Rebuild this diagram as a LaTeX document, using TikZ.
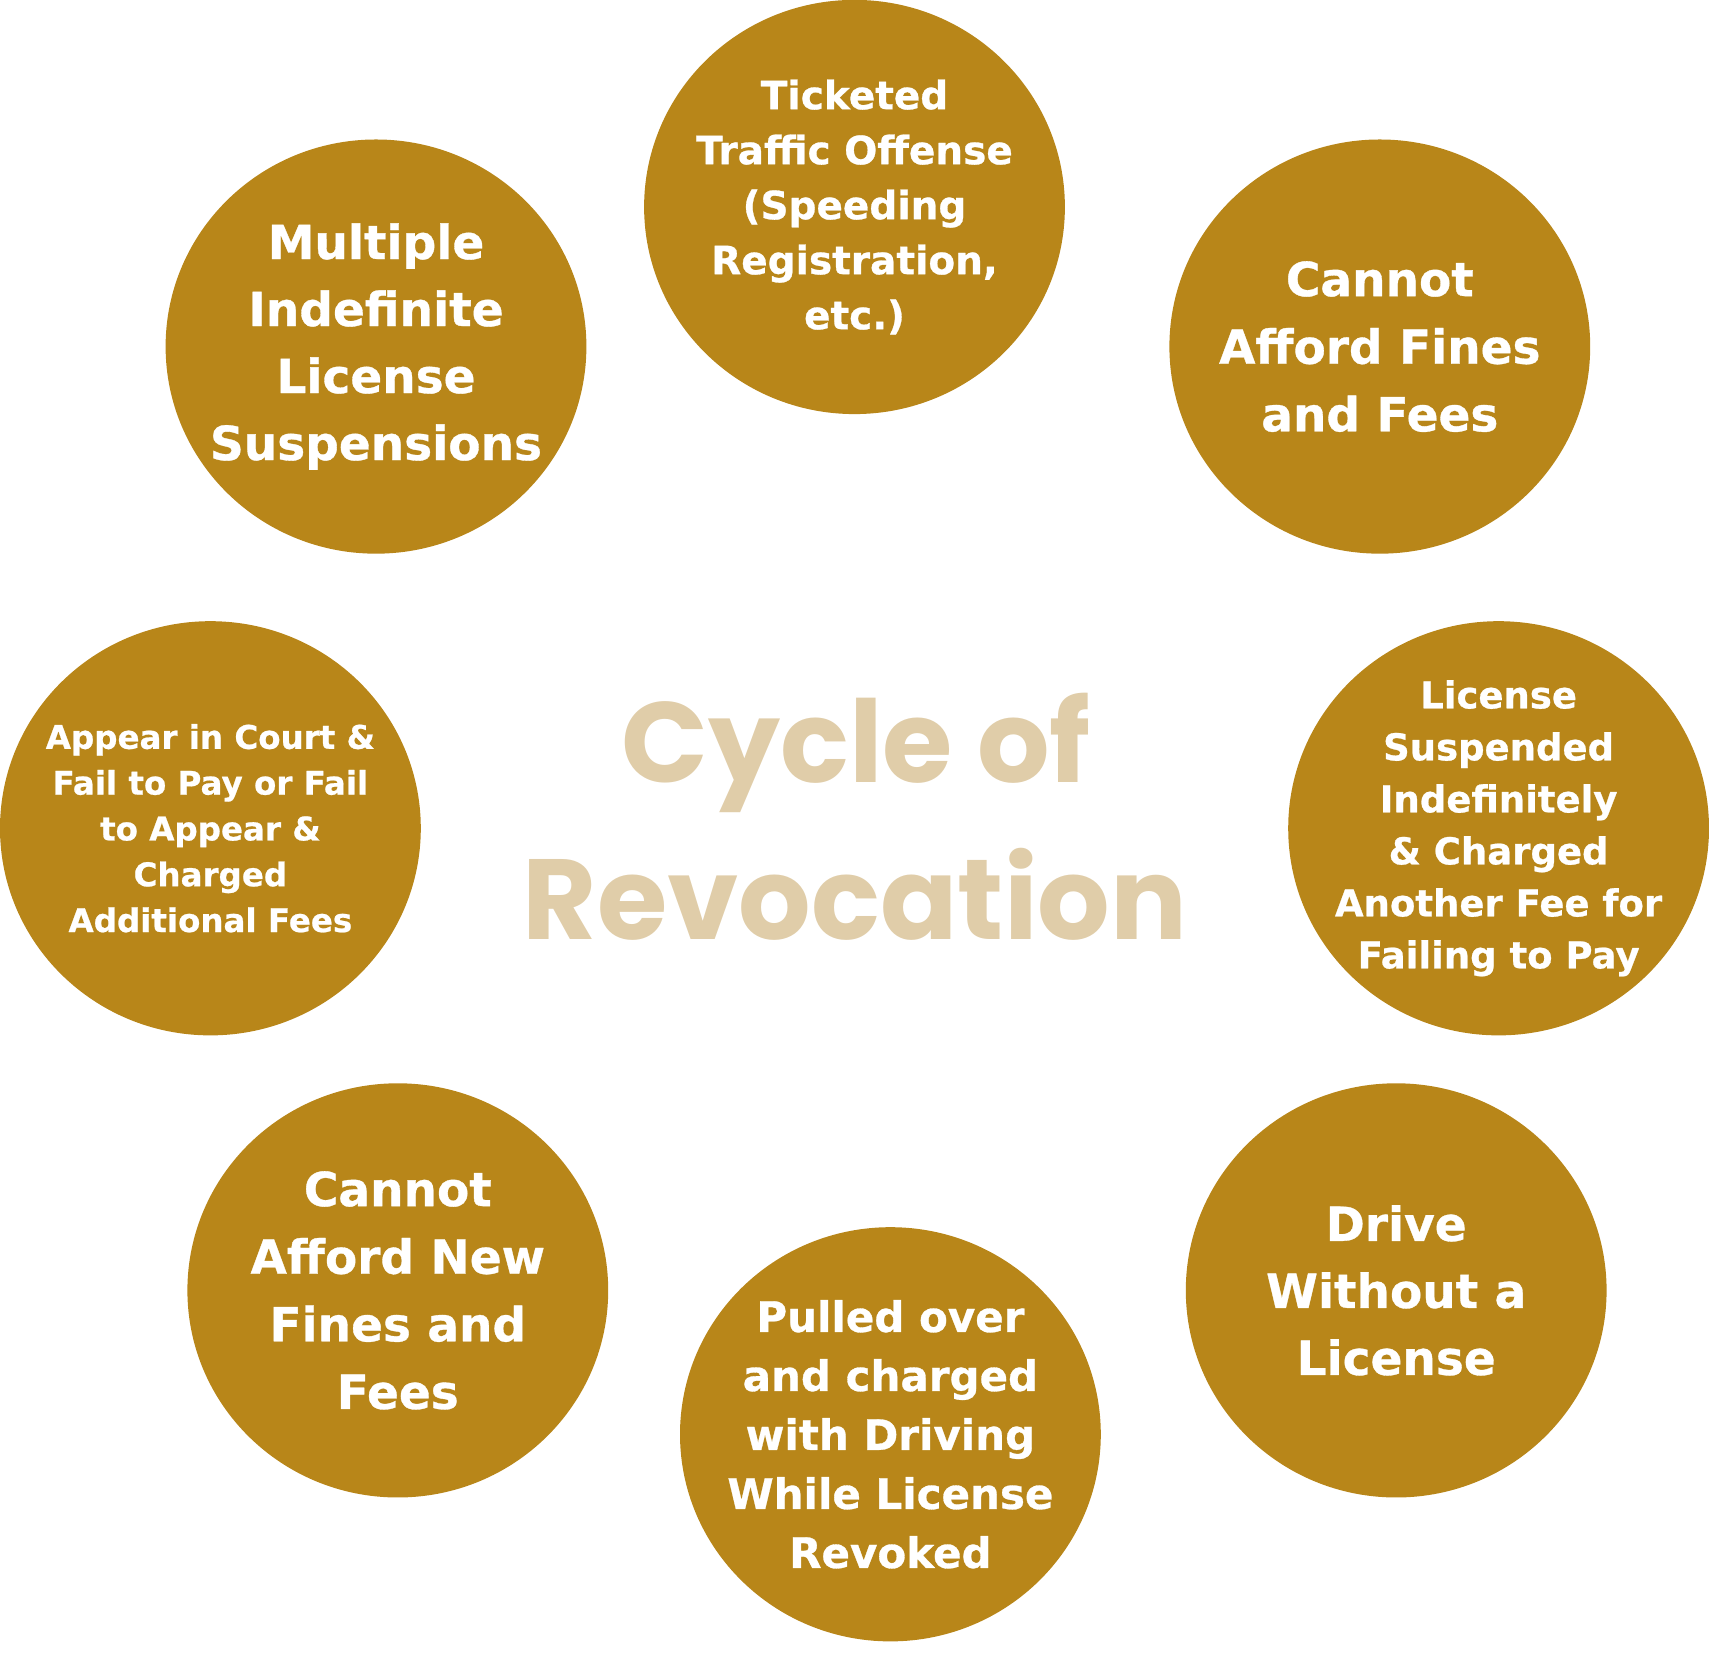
\documentclass[tikz,border=0pt]{standalone}
\usepackage{fontspec}
\usetikzlibrary{shapes.geometric}
\newfontfamily\circfont{DejaVu Sans}[BoldFeatures={FakeBold=0.7}]
\newfontfamily\titlefont{Poppins}
\definecolor{gold}{RGB}{184,134,25}
\definecolor{tan}{RGB}{224,205,169}
\newcommand{\fs}[2]{\circfont\bfseries\fontsize{#1}{#2}\selectfont}
\begin{document}
\begin{tikzpicture}[x=1pt,y=1pt,
  disc/.style={ellipse,fill=gold,draw=none,inner sep=0pt,minimum width=420.8pt,minimum height=414.2pt},
  lbl/.style={text=white,align=center,inner sep=0pt},
  ttl/.style={text=tan,anchor=base,inner sep=0pt,font=\titlefont\bfseries\fontsize{114}{134}\selectfont}]
\useasboundingbox (0,0) rectangle (1709,1665);
\node[disc] (c1) at (854.5,1458) {};
\node[disc] (c2) at (1379.8,1318.4) {};
\node[disc] (c3) at (1498.6,836.7) {};
\node[disc] (c4) at (1396.2,374.6) {};
\node[disc] (c5) at (890.4,230.7) {};
\node[disc] (c6) at (397.8,374.6) {};
\node[disc] (c7) at (210.4,836.7) {};
\node[disc] (c8) at (376,1318.4) {};
\node[lbl,font=\fs{39}{55}] (t1) at (c1.center) {Ticketed\\Traffic Offense\\(Speeding\\Registration,\\etc.)};
\node[lbl,font=\fs{47}{67.6}] (t2) at (c2.center) {Cannot\\Afford Fines\\and Fees};
\node[lbl,font=\fs{37}{52}] (t3) at (c3.center) {License\\Suspended\\Indefinitely\\\& Charged\\Another Fee for\\Failing to Pay};
\node[lbl,font=\fs{47}{67}] (t4) at (c4.center) {Drive\\Without a\\License};
\node[lbl,font=\fs{42}{59}] (t5) at (c5.center) {Pulled over\\and charged\\with Driving\\While License\\Revoked};
\node[lbl,font=\fs{47}{67.6}] (t6) at (c6.center) {Cannot\\Afford New\\Fines and\\Fees};
\node[lbl,font=\fs{32.5}{45.8}] (t7) at (c7.center) {Appear in Court \&\\Fail to Pay or Fail\\to Appear \&\\Charged\\Additional Fees};
\node[lbl,font=\fs{47}{67}] (t8) at (c8.center) {Multiple\\Indefinite\\License\\Suspensions};
\node[ttl] (ta) at (856,882.5) {Cycle of};
\node[ttl] (tb) at (855,725.5) {Revocation};
\end{tikzpicture}
\end{document}
